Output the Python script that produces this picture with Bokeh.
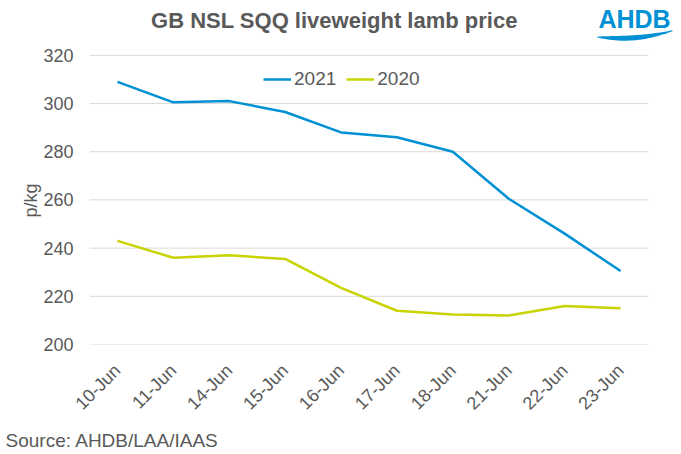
import numpy as np
from bokeh.plotting import figure
from bokeh.models import Range1d, Label, Legend, LegendItem, FixedTicker, PolyAnnotation, Title
from bokeh.embed import file_html
from bokeh.resources import INLINE

dates = ["10-Jun", "11-Jun", "14-Jun", "15-Jun", "16-Jun", "17-Jun", "18-Jun", "21-Jun", "22-Jun", "23-Jun"]
price_2021 = [309.0, 300.5, 301.0, 296.5, 288.0, 286.0, 280.0, 260.5, 246.0, 230.5]
price_2020 = [243.0, 236.0, 237.0, 235.5, 223.5, 214.0, 212.5, 212.0, 216.0, 215.0]
y_ticks = [200, 220, 240, 260, 280, 300, 320]

FONT = "Liberation Sans"
GREY = "#595959"
BLUE = "#0090D4"
GREEN = "#C8D400"

W, H = 681, 454
FL, FB = 89, 109            # frame: left border, bottom border; frame reaches top/right edge
FH = H - FB                 # frame height in px
PLOT_TOP = 55               # pixel row of the 320 gridline
ppu_y = (FH - PLOT_TOP) / (y_ticks[-1] - y_ticks[0])
n = len(dates)
x_idx = list(range(n))
ppu_x = (648 - FL) / n
x_end = (n - 0.5) + (W - 648) / ppu_x
y_end = y_ticks[0] + FH / ppu_y

p = figure(width=W, height=H, x_range=Range1d(-0.5, x_end), y_range=Range1d(y_ticks[0], y_end),
           output_backend="svg", toolbar_location=None,
           min_border_left=FL, min_border_right=0, min_border_top=0, min_border_bottom=FB)
p.outline_line_color = None
p.grid.visible = False

# horizontal gridlines across the category span
p.segment(x0=[-0.5] * len(y_ticks), x1=[n - 0.5] * len(y_ticks), y0=y_ticks, y1=y_ticks,
          line_color="#D9D9D9", line_width=1)

p.xaxis.ticker = FixedTicker(ticks=x_idx)
p.xaxis.major_label_overrides = {i: d for i, d in enumerate(dates)}
p.yaxis.ticker = FixedTicker(ticks=y_ticks)
for ax in (p.xaxis, p.yaxis):
    ax.axis_line_color = None
    ax.major_tick_line_color = None
    ax.minor_tick_line_color = None
    ax.major_tick_out = 0
    ax.major_tick_in = 0
    ax.minor_tick_out = 0
    ax.major_label_text_font = FONT
    ax.major_label_text_font_size = "18px"
    ax.major_label_text_color = GREY
p.xaxis.major_label_orientation = np.pi / 4
p.xaxis.major_label_standoff = 23
p.yaxis.major_label_standoff = 16

r1 = p.line(x_idx, price_2021, line_color=BLUE, line_width=2.5)
r2 = p.line(x_idx, price_2020, line_color=GREEN, line_width=2.5)

legend = Legend(items=[LegendItem(label="2021", renderers=[r1]), LegendItem(label="2020", renderers=[r2])],
                orientation="horizontal", location=(174, 254))
legend.background_fill_alpha = 0
legend.border_line_color = None
legend.label_text_font = FONT
legend.label_text_font_size = "19px"
legend.label_text_color = GREY
legend.glyph_width = 28
legend.label_standoff = 3
legend.spacing = 10
legend.margin = 0
legend.padding = 5
p.add_layout(legend)

# axis title and source as side titles
ylab = Title(text="p/kg", align="left", offset=127, text_font=FONT, text_font_size="18px",
             text_font_style="normal", text_color=GREY, standoff=0)
p.add_layout(ylab, "left")
src = Title(text="Source: AHDB/LAA/IAAS", align="left", offset=-84, text_font=FONT,
            text_font_size="19px", text_font_style="normal", text_color=GREY, standoff=8)
p.add_layout(src, "below")

# screen units are measured from the frame's bottom-left corner
def sx(X):
    return X - FL

def sy(Y):
    return FH - Y

p.add_layout(Label(x=sx(340), y=sy(21), x_units="screen", y_units="screen",
                   text="GB NSL SQQ liveweight  lamb  price", text_font=FONT, text_font_size="22px",
                   text_font_style="bold", text_color=GREY, text_align="center", text_baseline="middle"))
p.add_layout(Label(x=sx(634), y=sy(19), x_units="screen", y_units="screen",
                   text="AHDB", text_font=FONT, text_font_size="25px",
                   text_font_style="bold", text_color=BLUE, text_align="center", text_baseline="middle"))

# logo swoosh
t = np.linspace(0, 1, 50)
wx = 597 + 75 * t
center = 37.5 + 2.5 * np.sin(np.pi * t * 0.9) - 7.0 * t ** 2
thick = 0.8 + 5.2 * np.sin(np.pi * t) ** 0.8 * (1 - 0.35 * t)
top = center - thick / 2
bot = center + thick / 2
xs = [sx(v) for v in list(wx) + list(wx[::-1])]
ys = [sy(v) for v in list(top) + list(bot[::-1])]
p.add_layout(PolyAnnotation(xs=xs, ys=ys, xs_units="screen", ys_units="screen",
                            fill_color=BLUE, fill_alpha=1, line_color=None))

open("out.html", "w").write(file_html(p, INLINE))
